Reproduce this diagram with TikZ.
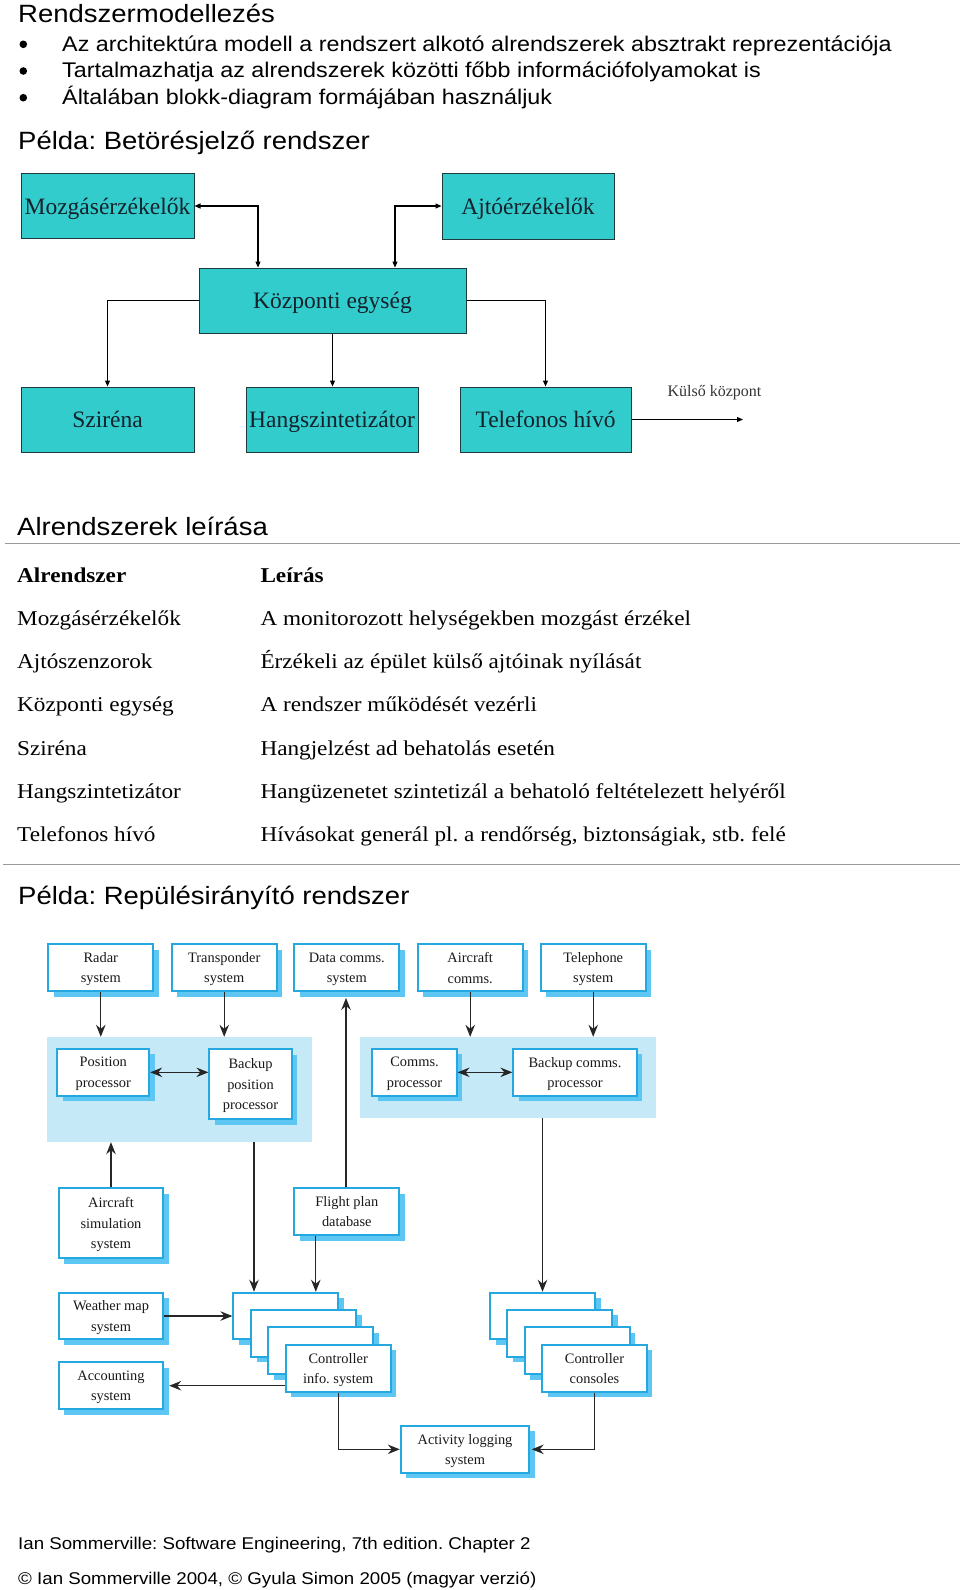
\documentclass[tikz,border=0pt]{standalone}
\usepackage{fontspec}
\setmainfont{Liberation Serif}
\newfontfamily\hsans[FakeStretch=1.1]{Liberation Sans}
\newfontfamily\tser[FakeStretch=1.1]{Liberation Serif}
\usetikzlibrary{arrows.meta,shadows,calc}
\definecolor{cyanbox}{HTML}{33CCCC}
\definecolor{cyanedge}{HTML}{1E3C40}
\definecolor{boxtext}{HTML}{14222C}
\definecolor{bordblue}{HTML}{25A8E0}
\definecolor{shadowblue}{HTML}{5DC6F2}
\definecolor{regionblue}{HTML}{C6E9F8}
\definecolor{rulegray}{HTML}{9A9A9A}
\frenchspacing
\begin{document}
\begin{tikzpicture}[x=1pt,y=-1pt,
  hd/.style={anchor=base west, inner sep=0, font=\hsans\fontsize{25}{30}\selectfont},
  bl/.style={anchor=base west, inner sep=0, font=\hsans\fontsize{21.2}{25}\selectfont},
  tb/.style={anchor=base west, inner sep=0, font=\tser\fontsize{21.1}{25}\selectfont},
  tbh/.style={anchor=base west, inner sep=0, font=\tser\bfseries\fontsize{21.1}{25}\selectfont},
  ft/.style={anchor=base west, inner sep=0, font=\hsans\fontsize{17}{20}\selectfont},
  cbox/.style={draw=cyanedge, line width=1pt, fill=cyanbox, text=boxtext, inner sep=0,
    minimum height=65pt, text depth=0pt, font=\fontsize{23.5}{28}\selectfont},
  tarrow/.style={draw=black, line width=1.1pt, -{Triangle[length=6pt,width=5pt]}},
  tarrow2/.style={draw=black, line width=1.1pt, {Triangle[length=6pt,width=5pt]}-{Triangle[length=6pt,width=5pt]}},
  abox/.style={draw=bordblue, line width=1.8pt, fill=white, inner sep=0, align=center,
    minimum width=105pt, minimum height=46.7pt, text=black!90, text depth=0pt,
    font=\fontsize{14.4}{20.5}\selectfont,
    drop shadow={shadow xshift=5.5pt, shadow yshift=-5.5pt, fill=shadowblue, opacity=1}},
  aarrow/.style={draw=black!85, line width=1.2pt, -{Stealth[length=12pt,width=9.5pt,inset=4pt]}},
  aarrow2/.style={draw=black!85, line width=1.2pt, {Stealth[length=12pt,width=9.5pt,inset=4pt]}-{Stealth[length=12pt,width=9.5pt,inset=4pt]}},
  region/.style={fill=regionblue, draw=none, inner sep=0}
]
\useasboundingbox (0,0) rectangle (960,1590);
\fill[white] (0,0) rectangle (960,1590);

% ---------- header ----------
\node[hd] (t1) at (18,22.7) {Rendszermodellezés};
\fill (23.3,44.3) circle (3.8);
\fill (23.3,71) circle (3.8);
\fill (23.3,97.7) circle (3.8);
\node[bl] (b1) at (62,51) {Az architektúra modell a rendszert alkotó alrendszerek absztrakt reprezentációja};
\node[bl] (b2) at (62,77.7) {Tartalmazhatja az alrendszerek közötti főbb információfolyamokat is};
\node[bl] (b3) at (62,104.3) {Általában blokk-diagram formájában használjuk};
\node[hd] (t2) at (18,149) {Példa: Betörésjelző rendszer};

% ---------- burglar alarm diagram ----------
\node[cbox, minimum width=173pt] (mz) at (107.5,206) {Mozgásérzékelők};
\node[cbox, minimum width=172pt, minimum height=66pt] (aj) at (528,206) {Ajtóérzékelők};
\node[cbox, minimum width=267pt] (kp) at (332.5,300.5) {Központi egység};
\node[cbox, minimum width=173pt] (sz) at (107.5,419.5) {Sziréna};
\node[cbox, minimum width=172pt] (hs) at (332,419.5) {Hangszintetizátor};
\node[cbox, minimum width=171pt] (tf) at (545.5,419.5) {Telefonos hívó};
\coordinate (ext) at (743,419.5);
\node[anchor=base, inner sep=0, text=black!80, font=\fontsize{16}{18}\selectfont] (kk) at (714.5,396) {Külső központ};

\draw[tarrow2] (mz.east) -| ([xshift=-74.5pt]kp.north);
\draw[tarrow2] (aj.west) -| ([xshift=62.5pt]kp.north);
\draw[tarrow] (kp.west) -| (sz.north);
\draw[tarrow] (kp.south) -- (kp.south |- hs.north);
\draw[tarrow] (kp.east) -| (tf.north);
\draw[tarrow] (tf.east) -- (ext);

% ---------- table ----------
\node[hd] (t3) at (17,535) {Alrendszerek leírása};
\draw[rulegray, line width=1pt] (5,543) -- (960,543);
\node[tbh] (h1) at (17,582.7) {Alrendszer};
\node[tbh] (h2) at (260.3,582.7) {Leírás};
\node[tb] (r1a) at (17,625) {Mozgásérzékelők};
\node[tb] (r1b) at (260.3,625) {A monitorozott helységekben mozgást érzékel};
\node[tb] (r2a) at (17,668) {Ajtószenzorok};
\node[tb] (r2b) at (260.3,668) {Érzékeli az épület külső ajtóinak nyílását};
\node[tb] (r3a) at (17,711.5) {Központi egység};
\node[tb] (r3b) at (260.3,711.5) {A rendszer működését vezérli};
\node[tb] (r4a) at (17,755) {Sziréna};
\node[tb] (r4b) at (260.3,755) {Hangjelzést ad behatolás esetén};
\node[tb] (r5a) at (17,798.3) {Hangszintetizátor};
\node[tb] (r5b) at (260.3,798.3) {Hangüzenetet szintetizál a behatoló feltételezett helyéről};
\node[tb] (r6a) at (17,841.7) {Telefonos hívó};
\node[tb] (r6b) at (260.3,841.7) {Hívásokat generál pl. a rendőrség, biztonságiak, stb. felé};
\draw[rulegray, line width=1pt] (3,864) -- (960,864);

\node[hd] (t4) at (18,904) {Példa: Repülésirányító rendszer};

% ---------- ATC diagram ----------
\node[region, minimum width=265pt, minimum height=105pt] (regL) at (179.5,1089.5) {};
\node[region, minimum width=296pt, minimum height=81pt] (regR) at (508,1077.5) {};

\node[abox] (rad) at (100.8,967.7) {Radar\\system};
\node[abox] (trn) at (224.2,967.7) {Transponder\\system};
\node[abox] (dc) at (346.8,967.7) {Data comms.\\system};
\node[abox] (ac) at (470.2,967.7) {Aircraft\\comms.};
\node[abox] (tel) at (593.2,967.7) {Telephone\\system};

\node[abox, minimum width=92pt] (pp) at (103.3,1072.3) {Position\\processor};
\node[abox, minimum width=82.4pt, minimum height=70.3pt] (bpp) at (250.5,1084.2) {Backup\\position\\processor};
\node[abox, minimum width=84.4pt] (cp) at (414.5,1072.3) {Comms.\\processor};
\node[abox, minimum width=123.4pt] (bcp) at (575,1072.3) {Backup comms.\\processor};

\node[abox, minimum width=104.6pt, minimum height=70pt] (sim) at (111,1223.3) {Aircraft\\simulation\\system};
\node[abox] (fpd) at (346.8,1211.7) {Flight plan\\database};
\node[abox, minimum width=104.6pt] (wm) at (111,1316) {Weather map\\system};
\node[abox, minimum width=104.6pt] (acc) at (111,1385.7) {Accounting\\system};

\node[abox] (ci1) at (285.8,1316) {};
\node[abox] (ci2) at (303.5,1333.3) {};
\node[abox] (ci3) at (320.8,1350.7) {};
\node[abox] (ci4) at (338.2,1368.3) {Controller\\info. system};

\node[abox] (cc1) at (542.5,1316) {};
\node[abox] (cc2) at (559.8,1333.3) {};
\node[abox] (cc3) at (577.2,1350.7) {};
\node[abox, minimum width=104.4pt] (cc4) at (594.5,1368.3) {Controller\\consoles};

\node[abox, minimum width=128.6pt] (act) at (465,1449.3) {Activity logging\\system};

\draw[aarrow] (rad.south) -- (rad.south |- regL.north);
\draw[aarrow] (trn.south) -- (trn.south |- regL.north);
\draw[aarrow] (ac.south) -- (ac.south |- regR.north);
\draw[aarrow] (tel.south) -- (tel.south |- regR.north);
\draw[aarrow2] (pp.east) -- (pp.east -| bpp.west);
\draw[aarrow2] (cp.east) -- (cp.east -| bcp.west);
\draw[aarrow] (sim.north) -- (sim.north |- regL.south);
\draw[aarrow] ([xshift=-0.8pt]fpd.north) -- ([xshift=-0.8pt,yshift=-6pt]dc.south);
\draw[aarrow] ([xshift=3.5pt]bpp.south |- regL.south) -- ([xshift=3.5pt]bpp.south |- ci1.north);
\draw[aarrow] ([xshift=-31pt]fpd.south) -- ([xshift=-31pt]fpd.south |- ci1.north);
\draw[aarrow] (wm.east) -- (ci1.west);
\draw[aarrow] (ci4.west |- acc.east) -- ([xshift=5pt]acc.east);
\draw[aarrow] (ci4.south) |- (act.west);
\draw[aarrow] (cc1.north |- regR.south) -- (cc1.north);
\draw[aarrow] (cc4.south) |- ([xshift=1.5pt]act.east);

% ---------- footer ----------
\node[ft] (f1) at (18,1549.3) {Ian Sommerville: Software Engineering, 7th edition. Chapter 2};
\node[ft] (f2) at (18,1584) {© Ian Sommerville 2004, © Gyula Simon 2005 (magyar verzió)};
\end{tikzpicture}
\end{document}
